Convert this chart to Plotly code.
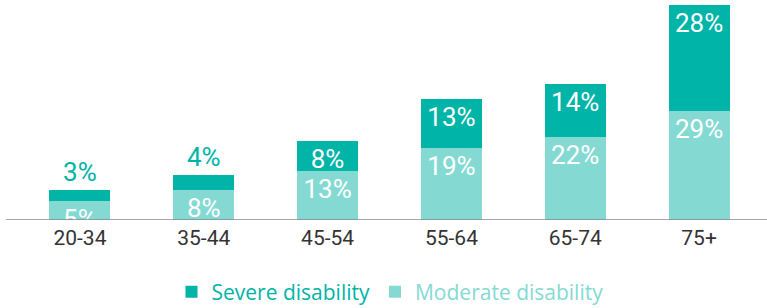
import plotly.graph_objects as go

categories = ["20-34", "35-44", "45-54", "55-64", "65-74", "75+"]
moderate = [5, 8, 13, 19, 22, 29]
severe = [3, 4, 8, 13, 14, 28]
severe_text_pos = ["outside", "outside", "inside", "inside", "inside", "inside"]

SEVERE_C = "rgb(0,180,168)"
MODERATE_C = "rgb(132,218,211)"
FONT = "Roboto"

fig = go.Figure()
fig.add_trace(go.Bar(
    x=categories, y=moderate,
    name=f"<span style='color:{MODERATE_C}'>Moderate disability</span>",
    marker=dict(color=MODERATE_C, line=dict(width=0)),
    texttemplate="%{y}%", textposition="inside", insidetextanchor="end",
    insidetextfont=dict(color="white", size=26, family=FONT),
    constraintext="none", cliponaxis=True, hoverinfo="skip",
))
fig.add_trace(go.Bar(
    x=categories, y=severe,
    name=f"<span style='color:{SEVERE_C}'>Severe disability</span>",
    marker=dict(color=SEVERE_C, line=dict(width=0)),
    texttemplate="%{y}%", textposition=severe_text_pos, insidetextanchor="end",
    insidetextfont=dict(color="white", size=26, family=FONT),
    outsidetextfont=dict(color=SEVERE_C, size=26, family=FONT),
    constraintext="none", cliponaxis=False, hoverinfo="skip",
))

fig.add_shape(type="line", xref="paper", yref="y",
              x0=-12 / 743, x1=1 + 6 / 743, y0=0, y1=0,
              line=dict(color="#888888", width=1.5), layer="above")

fig.update_layout(
    barmode="stack",
    bargap=0.508,
    width=767, height=308,
    margin=dict(l=18, r=6, t=5, b=88, autoexpand=False),
    paper_bgcolor="white", plot_bgcolor="white",
    font=dict(family=FONT, color="#333333"),
    showlegend=True,
    legend=dict(orientation="h", traceorder="reversed",
                xref="container", yref="container",
                x=390 / 767, xanchor="center", y=1 - 292 / 308, yanchor="middle",
                font=dict(size=21, family="Open Sans", color=SEVERE_C),
                itemclick=False, itemdoubleclick=False),
    xaxis=dict(showgrid=False, zeroline=False, showline=False, ticks="",
               ticklabelstandoff=3,
               tickfont=dict(size=21, family=FONT, color="#333333")),
    yaxis=dict(visible=False, range=[0, 57], showgrid=False, zeroline=False),
    hovermode=False,
)

fig.write_html(
    "out.html",
    config={"displayModeBar": False, "staticPlot": True},
    post_script="document.body.style.margin='0';document.body.style.overflow='hidden';",
)
